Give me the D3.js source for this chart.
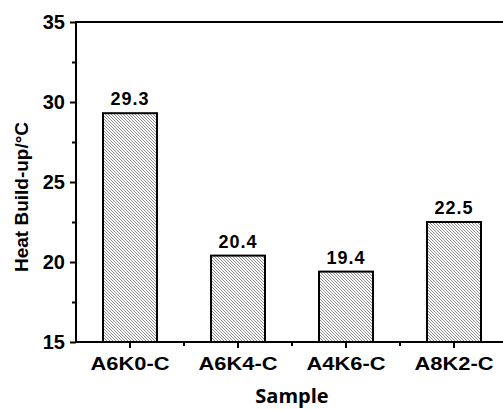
<!DOCTYPE html>
<html><head><meta charset="utf-8">
<script src="https://cdn.jsdelivr.net/npm/d3@7"></script>
<style>body{margin:0;background:#fff;overflow:hidden}svg{display:block}</style>
</head><body><svg id="c" width="503" height="410"></svg>
<script>
const categories = ["A6K0-C","A6K4-C","A4K6-C","A8K2-C"];
const values = [29.3, 20.4, 19.4, 22.5];
const valueLabels = ["29.3","20.4","19.4","22.5"];
const yTicks = [15,20,25,30,35];
const yMinorTicks = [17.5,22.5,27.5,32.5];

const svg = d3.select("#c");
const L = 76, R = 508, T = 22, B = 342;
const x = d3.scaleBand().domain(categories).range([L, R]).paddingInner(0.5).paddingOuter(0.25);
const xb = d3.scaleBand().domain(categories).range([L, R]);
const y = d3.scaleLinear().domain([15, 35]).range([B, T]);

const defs = svg.append("defs");
const pat = defs.append("pattern").attr("id","hatch").attr("patternUnits","userSpaceOnUse")
  .attr("width",3).attr("height",3);
pat.append("rect").attr("width",3).attr("height",3).attr("fill","#fff");
pat.append("path").attr("d","M0,0 L3,3 M-1,2 L1,4 M2,-1 L4,1")
  .attr("stroke","#8a8a8a").attr("stroke-width",1);

// bars
svg.selectAll("rect.bar").data(values).enter().append("rect").attr("class","bar")
  .attr("x",(d,i)=>x(categories[i])).attr("width",x.bandwidth())
  .attr("y",d=>y(d)).attr("height",d=>B-y(d))
  .attr("fill","url(#hatch)").attr("stroke","#000").attr("stroke-width",2);

// value labels
svg.selectAll("text.val").data(values).enter().append("text").attr("class","val")
  .attr("x",(d,i)=>x(categories[i])+x.bandwidth()/2).attr("y",d=>y(d)-8)
  .attr("text-anchor","middle").attr("font-family","Liberation Sans, Arial").attr("font-weight","bold")
  .attr("font-size",18).attr("letter-spacing",1).text((d,i)=>valueLabels[i]);

// axes frame
const frame = svg.append("g").attr("stroke","#000").attr("stroke-width",2).attr("fill","none");
frame.append("line").attr("x1",L).attr("x2",L).attr("y1",T-1).attr("y2",B+1);
frame.append("line").attr("x1",L-1).attr("x2",R).attr("y1",B).attr("y2",B);
frame.append("line").attr("x1",L-1).attr("x2",R).attr("y1",T).attr("y2",T);

// y axis
const yAxis = d3.axisLeft(y).tickValues(yTicks).tickSize(6).tickPadding(5).tickFormat(d3.format("d"));
const gy = svg.append("g").attr("transform",`translate(${L},0)`).call(yAxis);
gy.select(".domain").remove();
gy.selectAll(".tick line").attr("stroke-width",2);
gy.selectAll(".tick text").attr("font-family","Liberation Sans, Arial").attr("font-weight","bold")
  .attr("font-size",20).attr("fill","#000").attr("dy","0.34em");
const gym = svg.append("g").attr("transform",`translate(${L},0)`)
  .call(d3.axisLeft(y).tickValues(yMinorTicks).tickSize(4).tickFormat(""));
gym.select(".domain").remove();
gym.selectAll(".tick line").attr("stroke-width",2);

// x axis
const xAxis = d3.axisBottom(x).tickSize(6).tickPadding(9);
const gx = svg.append("g").attr("transform",`translate(0,${B})`).call(xAxis);
gx.select(".domain").remove();
gx.selectAll(".tick line").attr("stroke-width",2);
gx.selectAll(".tick text").attr("font-family","Liberation Sans, Arial").attr("font-weight","bold")
  .attr("font-size",18).attr("fill","#000").attr("textLength",79).attr("lengthAdjust","spacingAndGlyphs");
const minorX = categories.slice(1).map(c=>xb(c));
svg.append("g").selectAll("line").data(minorX).enter().append("line")
  .attr("x1",d=>d).attr("x2",d=>d).attr("y1",B).attr("y2",B+4)
  .attr("stroke","#000").attr("stroke-width",2);

// titles
svg.append("text").attr("x",(L+R)/2).attr("y",403).attr("text-anchor","middle")
  .attr("font-family","Open Sans").attr("font-weight","bold").attr("font-size",20).text("Sample");
svg.append("text").attr("transform",`translate(28,197) rotate(-90)`).attr("text-anchor","middle")
  .attr("font-family","Liberation Sans, Arial").attr("font-weight","bold").attr("font-size",19)
  .text("Heat Build-up/°C");
</script></body></html>
